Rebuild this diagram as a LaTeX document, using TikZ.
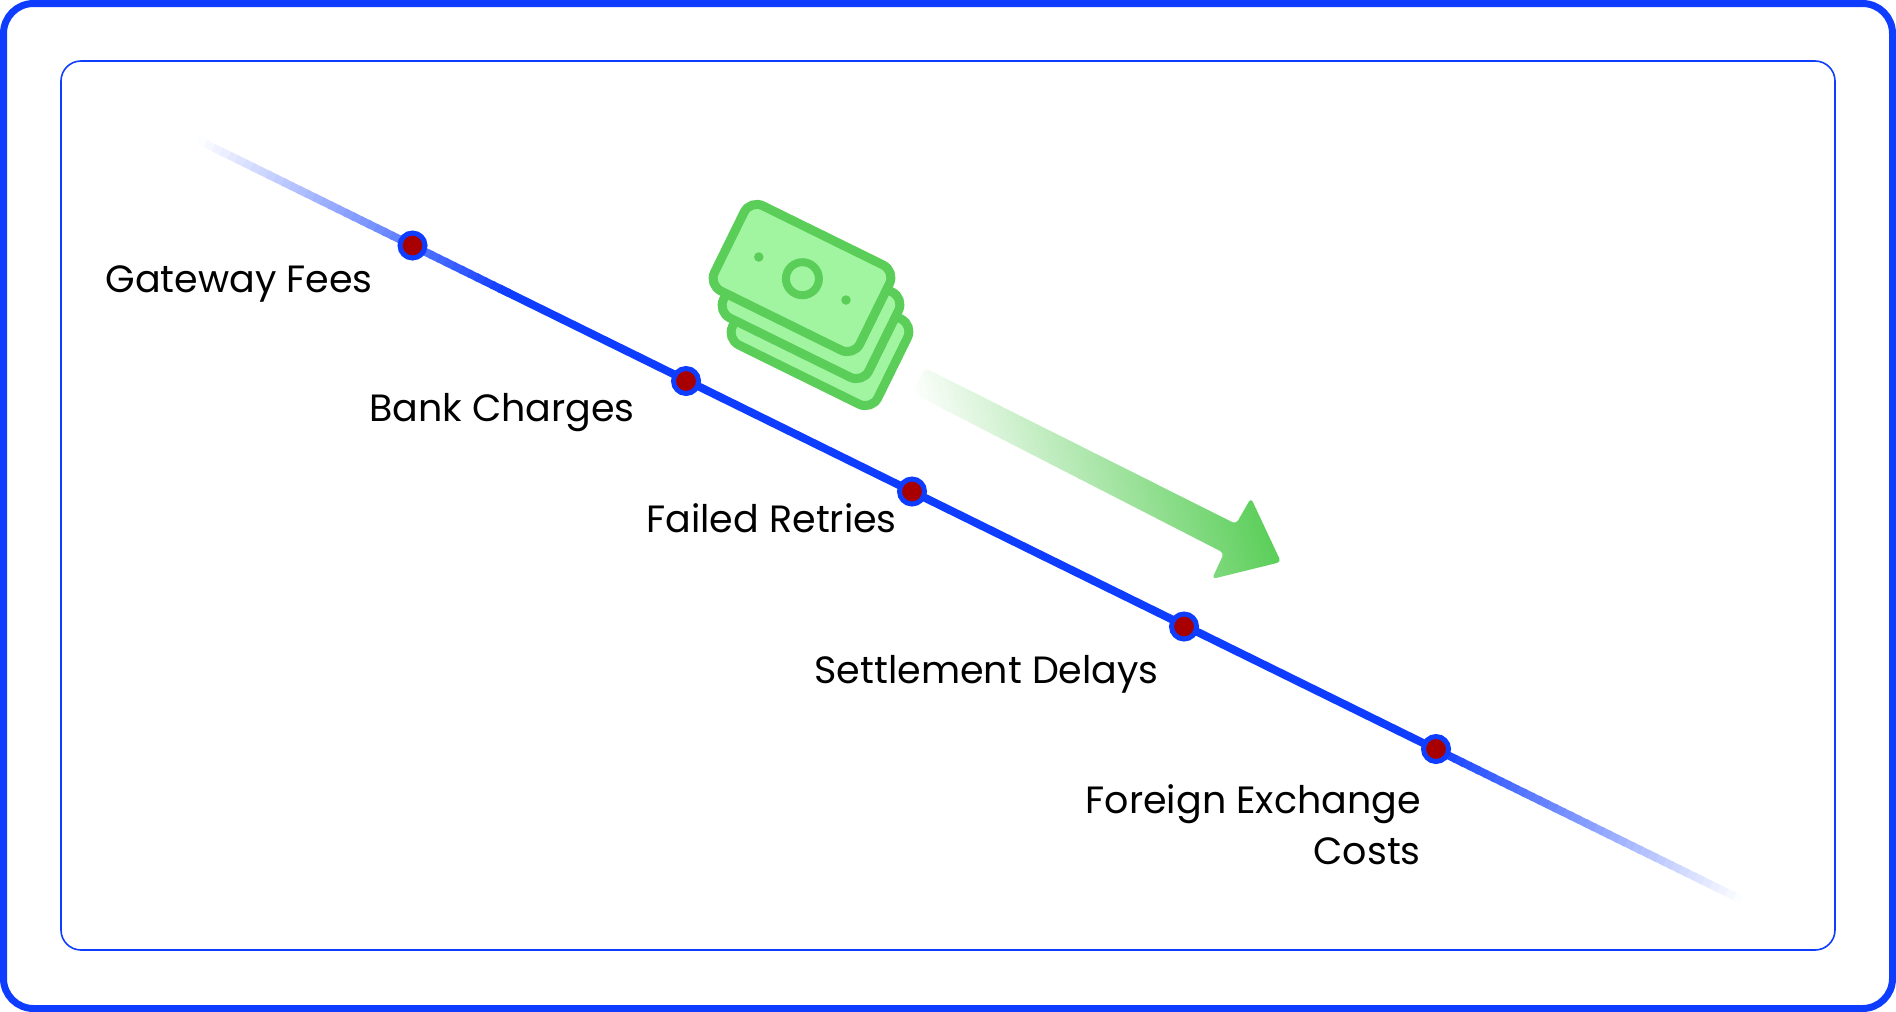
\documentclass[tikz,border=0pt]{standalone}
\usepackage{fontspec}
\setmainfont{Poppins}
\usetikzlibrary{calc}
\definecolor{mainblue}{HTML}{0F3DFF}
\definecolor{dotred}{HTML}{A80000}
\definecolor{moneygreen}{HTML}{5ACE58}
\definecolor{moneyfill}{HTML}{A2F5A0}
\pgfdeclarehorizontalshading{arrowfade}{100bp}{color(0bp)=(white); color(26.3bp)=(white); color(73.1bp)=(moneygreen); color(100bp)=(moneygreen)}
\begin{document}
\begin{tikzpicture}[
    x=1pt, y=-1pt,
    % Define styles
    outerframe/.style={
        rectangle,
        draw=mainblue,
        line width=7pt,
        rounded corners=30pt,
        inner sep=0pt,
        outer sep=0pt,
        minimum width=1889pt,
        minimum height=1005pt
    },
    innerframe/.style={
        rectangle,
        draw=mainblue,
        line width=1.6pt,
        rounded corners=20pt,
        inner sep=0pt,
        outer sep=0pt,
        minimum width=1774pt,
        minimum height=889pt
    },
    costline/.style={
        line width=8pt,
        mainblue
    },
    costdot/.style={
        circle,
        draw=mainblue,
        fill=dotred,
        line width=5pt,
        inner sep=0pt,
        minimum size=25pt
    },
    costtext/.style={
        anchor=base east,
        align=right,
        inner sep=0pt,
        font=\fontsize{38}{51}\selectfont
    },
    bill/.style={
        rectangle,
        draw=moneygreen,
        fill=moneyfill,
        line width=9pt,
        rounded corners=14pt,
        inner sep=0pt,
        minimum width=162pt,
        minimum height=95pt,
        rotate=-26.2
    },
    billring/.style={
        circle,
        draw=moneygreen,
        line width=8pt,
        inner sep=0pt,
        minimum size=33pt
    },
    billdot/.style={
        circle,
        fill=moneygreen,
        inner sep=0pt,
        minimum size=9.5pt
    }
]

\useasboundingbox (0,0) rectangle (1896,1012);

% Frames
\node[outerframe] (outer) at (948,506) {};
\node[innerframe] (inner) at (948,505.5) {};

% Cost line, faded at both ends
\coordinate (linestart) at (198,140);
\coordinate (lineend) at (1742,900);
\draw[costline] ($(linestart)!0.195!(lineend)$) -- ($(linestart)!0.805!(lineend)$);
\foreach \i in {0,...,39} {
    \pgfmathsetmacro{\shadeval}{(\i+0.5)*2.5}
    \pgfmathsetmacro{\fromA}{\i*0.005}
    \pgfmathsetmacro{\toA}{(\i+1.3)*0.005}
    \pgfmathsetmacro{\fromB}{1-\i*0.005}
    \pgfmathsetmacro{\toB}{1-(\i+1.3)*0.005}
    \draw[costline, color=mainblue!\shadeval!white] ($(linestart)!\fromA!(lineend)$) -- ($(linestart)!\toA!(lineend)$);
    \draw[costline, color=mainblue!\shadeval!white] ($(linestart)!\fromB!(lineend)$) -- ($(linestart)!\toB!(lineend)$);
}

% Dots on the line
\node[costdot] (gatewaydot) at (412.5,245.5) {};
\node[costdot] (bankdot) at (686,381) {};
\node[costdot] (faileddot) at (912,491.5) {};
\node[costdot] (settledot) at (1184,626.5) {};
\node[costdot] (foreigndot) at (1436,749) {};

% Labels
\node[costtext] (gatewaytext) at (373,292) {Gateway Fees};
\node[costtext] (banktext) at (635,421) {Bank Charges};
\node[costtext] (failedtext) at (897,532) {Failed Retries};
\node[costtext] (settletext) at (1159,683) {Settlement Delays};
\node[costtext] (foreigntext) at (1421,864) {Foreign Exchange\\Costs};

% Green arrow
\shade[shading=arrowfade, shading angle=15.7, rounded corners=4pt]
    (925,368) -- (1236,524) -- (1251,498) -- (1281,562) -- (1212,579) -- (1224,553) -- (912,393) -- cycle;

% Stack of bills
\node[bill] (billc) at (820,332) {};
\node[bill] (billb) at (811,305) {};
\node[bill] (billa) at (802,278) {};
\node[billring] (ring) at (802.4,278.7) {};
\node[billdot] (dota) at (758.8,257) {};
\node[billdot] (dotb) at (846,300) {};

\end{tikzpicture}
\end{document}
